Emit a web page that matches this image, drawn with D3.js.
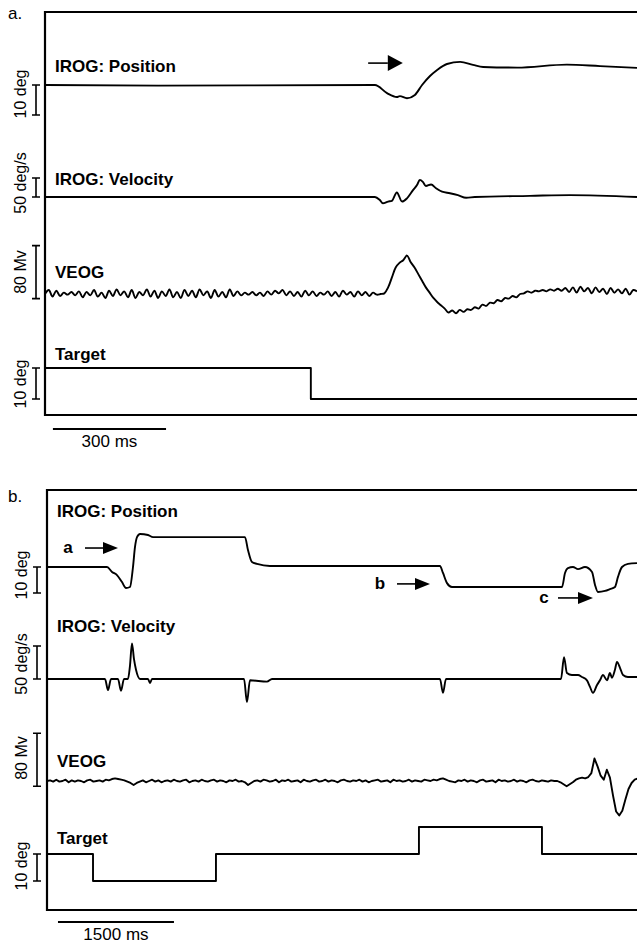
<!DOCTYPE html>
<html>
<head>
<meta charset="utf-8">
<script src="https://cdn.jsdelivr.net/npm/d3@7"></script>
<style>
body { margin: 0; background: #fff; }
svg { display: block; font-family: "Liberation Sans", Arial, Helvetica, sans-serif; }
.lbl { font-weight: bold; font-size: 17px; }
.unit { font-size: 16px; }
.time { font-size: 17px; }
</style>
</head>
<body>
<svg id="chart" width="637" height="943"></svg>
<script>
// ---- panel a (ms, deg, deg/s, uV) ----
const aPosT = [0, 300, 875, 907, 933, 941, 960, 981, 1000, 1021, 1040, 1066, 1101, 1135, 1162, 1252, 1384, 1472, 1570];
const aPosV = [0, -0.2, 0, -2.7, -4, -3.7, -4.4, -3.3, 0, 3, 5, 7, 7.7, 6.7, 6, 5.8, 6.8, 6.3, 5.7];

const aVelT = [0, 875, 888, 896, 910, 920, 933, 947, 960, 976, 987, 994, 1002, 1010, 1024, 1037, 1053, 1074, 1095, 1117, 1140, 1286, 1392, 1570];
const aVelV = [0, 0, -8, -16.5, -12, -10, 12, -12, -3.5, 18, 32, 45, 40, 29, 33, 23, 14, 10, 5, -2, 0, 3, 5, 0];

const aVeogStep = 10;
const aVeog = [
  0, 6, -4, 5, -3, 2, -1, 3, -2, 4,
  -5, 3, -2, 6, -4, 2, -6, 5, -3, 7,
  -2, 4, -5, 6, -6, 3, -2, 7, -4, 5,
  -6, 4, -3, 7, -5, 3, -6, 6, -3, 5,
  -5, 7, -2, 4, -6, 6, -4, 3, -5, 7,
  -3, 4, -2, 2, -1, 3, -2, 2, -3, 4,
  -1, 5, 1, 6, -2, 4, -3, 3, -4, 5,
  -2, 4, -3, 2, -1, 4, -3, 3, -4, 5,
  -1, 3, -4, 4, -2, 3, -3, 2, -1, 0,
  1, 10, 25, 40, 47, 51, 58, 48, 40, 30,
  20, 10, 2, -6, -12, -17, -22, -28, -25, -29,
  -24, -27, -23, -24, -20, -22, -16, -18, -13, -14,
  -9, -11, -6, -7, -3, -5, 0, 1, 4, 2,
  5, 4, 6, 4, 7, 5, 8, 5, 9, 3,
  10, 2, 11, 4, 9, 1, 10, 3, 8, 0,
  9, 2, 7, 1, 8, -1, 6, 4
];

const aTgtT = [0, 705, 1570];
const aTgtV = [0, -10, -10];

// ---- panel b ----
const bPosT = [0, 776, 841, 905, 970, 1022, 1073, 1112, 1138, 1164, 1203, 1306, 1371, 2560, 2599, 2651, 2716, 2884, 5082, 5121, 5173, 5237,
  6660, 6699, 6737, 6802, 6867, 6957, 7048, 7087, 7125, 7216, 7280, 7345, 7384, 7436, 7513, 7630];
const bPosV = [0, 0, -1.9, -3.1, -5.8, -8.1, -7.7, 0, 7.7, 11.5, 12.7, 12.3, 11.5, 11.5, 6.5, 1.9, 1.2, 0.4, 0.4, -2.3, -6.2, -7.7,
  -7.7, -2.3, -0.4, 0, -0.8, 0, -1.9, -6.9, -9.6, -9.2, -8.5, -7.7, -3.8, 0, 1.2, 1.5];

const bVelT = [0, 750, 789, 828, 918, 957, 996, 1047, 1073, 1099, 1125, 1151, 1203, 1306, 1332, 1358, 2548, 2586, 2625, 2845,
  2910, 5082, 5121, 5160, 6647, 6686, 6724, 6789, 6867, 6918, 6983, 7022, 7061, 7113, 7151, 7190, 7242, 7280, 7306, 7345,
  7371, 7410, 7449, 7513, 7630];
const bVelV = [0, 0, -16.7, 0, 0, -18, 0, 0, 20, 54, 30, 14, 0, 0, -6, 0, 0, -35, -2, -4,
  0, 0, -21, 0, 0, 33, 9, 6, 6, 3, -2, -12, -21, -9, -2, 6, -2, 9, 2, 14,
  26, 17, 6, 3, 3];

const bVeogStep = 40;
const bVeog = [
  0, 1, -1, 2, -1, 0, 2, -2, 1, -1,
  1, 0, -2, 1, 2, -1, 0, 1, -1, 2,
  1, 3, 4, 3, 2, 1, -1, -3, -6, -3,
  -1, 1, -2, 0, 2, -1, 1, -2, 0, 1,
  -1, 2, 0, -1, 1, 2, -2, 0, 1, -1,
  2, 0, -1, 1, 2, -1, 1, 0, -2, 1,
  0, 2, -1, 0, -2, -6, -3, 0, 1, -1,
  2, 1, -1, 0, 2, -2, 1, 0, 2, -1,
  0, 1, -2, 2, 0, -1, 1, 2, -1, 0,
  2, -1, 1, 0, -2, 1, 2, 0, -1, 1,
  0, 2, -1, 1, -2, 0, 1, 2, -1, 0,
  1, -2, 2, 0, 1, -1, 0, 2, -1, 1,
  0, -1, 2, 1, 0, 2, 1, 3, 4, 2,
  0, -1, -2, 1, 0, 2, -1, 1, 0, -2,
  1, 2, -1, 0, 1, -2, 2, 0, 1, -1,
  0, 2, -1, 1, 0, -2, 1, 2, 0, -1,
  1, 0, -1, 1, 0, 0, -2, -5, -8, -5,
  -2, 2, 4, 5, 4, 6, 12, 34, 22, 8,
  2, 17, 5, -22, -46, -52, -45, -28, -12, -3,
  2, 4
];

const bTgtT = [0, 595, 2185, 4810, 6401, 7630];
const bTgtV = [0, -10, 0, 10, 0, 0];

const traceNames = ["IROG: Position", "IROG: Velocity", "VEOG", "Target"];
const unitNames = ["10 deg", "50 deg/s", "80 Mv", "10 deg"];
const unitValues = [10, 50, 80, 10];

const zip = (t, v) => t.map((d, i) => [d, v[i]]);
const even = (step, v) => v.map((d, i) => [i * step, d]);

const panels = [
  {
    tag: "a.", span: 1570, left: 45, top: 12, bottom: 415, barX: 36, unitX: 26,
    timeBar: {t0: 21, len: 300, y: 429, text: "300 ms", textY: 447},
    traces: [
      {data: zip(aPosT, aPosV), y0: 85, px: 30, barFrom: -10, curve: d3.curveMonotoneX, labelY: 72, unitY: 94},
      {data: zip(aVelT, aVelV), y0: 197, px: 19, barFrom: 0, curve: d3.curveMonotoneX, labelY: 185, unitY: 183},
      {data: even(aVeogStep, aVeog), y0: 294, px: 53, barFrom: -7, curve: d3.curveCatmullRom, labelY: 278, unitY: 272},
      {data: zip(aTgtT, aTgtV), y0: 368, px: 31, barFrom: -10, curve: d3.curveStepAfter, labelY: 360, unitY: 384}
    ],
    arrows: [{trace: 0, t0: 857, t1: 949, v: 7.3, head: 8}],
    tagY: 19
  },
  {
    tag: "b.", span: 7630, left: 47, top: 490, bottom: 910, barX: 37, unitX: 27,
    timeBar: {t0: 142, len: 1500, y: 922, text: "1500 ms", textY: 940},
    traces: [
      {data: zip(bPosT, bPosV), y0: 567, px: 26, barFrom: -10, curve: d3.curveMonotoneX, labelY: 517, unitY: 575},
      {data: zip(bVelT, bVelV), y0: 679, px: 33, barFrom: 0, curve: d3.curveMonotoneX, labelY: 632, unitY: 664},
      {data: even(bVeogStep, bVeog), y0: 781, px: 53, barFrom: -8, curve: d3.curveLinear, labelY: 767, unitY: 758},
      {data: zip(bTgtT, bTgtV), y0: 854, px: 27, barFrom: -10, curve: d3.curveStepAfter, labelY: 844, unitY: 866}
    ],
    arrows: [
      {trace: 0, t0: 491, t1: 918, v: 7.3, head: 6, label: "a", lt: 272},
      {trace: 0, t0: 4526, t1: 4953, v: -6.5, head: 6, label: "b", lt: 4306},
      {trace: 0, t0: 6608, t1: 7061, v: -11.9, head: 6, label: "c", lt: 6427}
    ],
    tagY: 502
  }
];

const svg = d3.select("#chart");

panels.forEach(p => {
  const g = svg.append("g");
  const x = d3.scaleLinear().domain([0, p.span]).range([p.left, 637]);

  g.append("text").attr("class", "lbl").attr("x", 8).attr("y", p.tagY)
    .style("font-weight", "normal").text(p.tag);

  // frame: top, left, bottom
  g.append("path")
    .attr("d", `M637,${p.top}H${p.left}V${p.bottom}H637`)
    .attr("fill", "none").attr("stroke", "#000").attr("stroke-width", 2.2);

  const ys = [];
  p.traces.forEach((tr, i) => {
    const y = d3.scaleLinear().domain([0, unitValues[i]]).range([tr.y0, tr.y0 - tr.px]);
    ys.push(y);
    const line = d3.line().x(d => x(d[0])).y(d => y(d[1])).curve(tr.curve);

    g.append("path")
      .datum(tr.data)
      .attr("d", line)
      .attr("fill", "none")
      .attr("stroke", "#000")
      .attr("stroke-width", 1.9)
      .attr("stroke-linejoin", "round");

    g.append("text").attr("class", "lbl")
      .attr("x", p.left + 10).attr("y", tr.labelY)
      .text(traceNames[i]);

    // calibration bar
    const b0 = y(tr.barFrom), b1 = y(tr.barFrom + unitValues[i]);
    g.append("path")
      .attr("d", `M${p.barX},${b0}V${b1}M${p.barX - 4},${b0}H${p.barX + 4}M${p.barX - 4},${b1}H${p.barX + 4}`)
      .attr("fill", "none").attr("stroke", "#000").attr("stroke-width", 1.6);

    g.append("text").attr("class", "unit")
      .attr("transform", `translate(${p.unitX},${tr.unitY}) rotate(-90)`)
      .attr("text-anchor", "middle")
      .text(unitNames[i]);
  });

  p.arrows.forEach(a => {
    const ay = ys[a.trace](a.v);
    const x0 = x(a.t0), x1 = x(a.t1);
    const hx = x1 - 15;
    g.append("line").attr("x1", x0).attr("x2", hx).attr("y1", ay).attr("y2", ay)
      .attr("stroke", "#000").attr("stroke-width", 1.6);
    g.append("path")
      .attr("d", `M${hx},${ay - a.head}L${x1},${ay}L${hx},${ay + a.head}Z`)
      .attr("fill", "#000");
    if (a.label) {
      g.append("text").attr("class", "lbl")
        .attr("x", x(a.lt)).attr("y", ay + 5)
        .attr("text-anchor", "middle")
        .text(a.label);
    }
  });

  // time calibration
  const tb = p.timeBar;
  g.append("line")
    .attr("x1", x(tb.t0)).attr("x2", x(tb.t0 + tb.len))
    .attr("y1", tb.y).attr("y2", tb.y)
    .attr("stroke", "#000").attr("stroke-width", 1.8);
  g.append("text").attr("class", "time")
    .attr("x", x(tb.t0 + tb.len / 2)).attr("y", tb.textY)
    .attr("text-anchor", "middle")
    .text(tb.text);
});
</script>
</body>
</html>
